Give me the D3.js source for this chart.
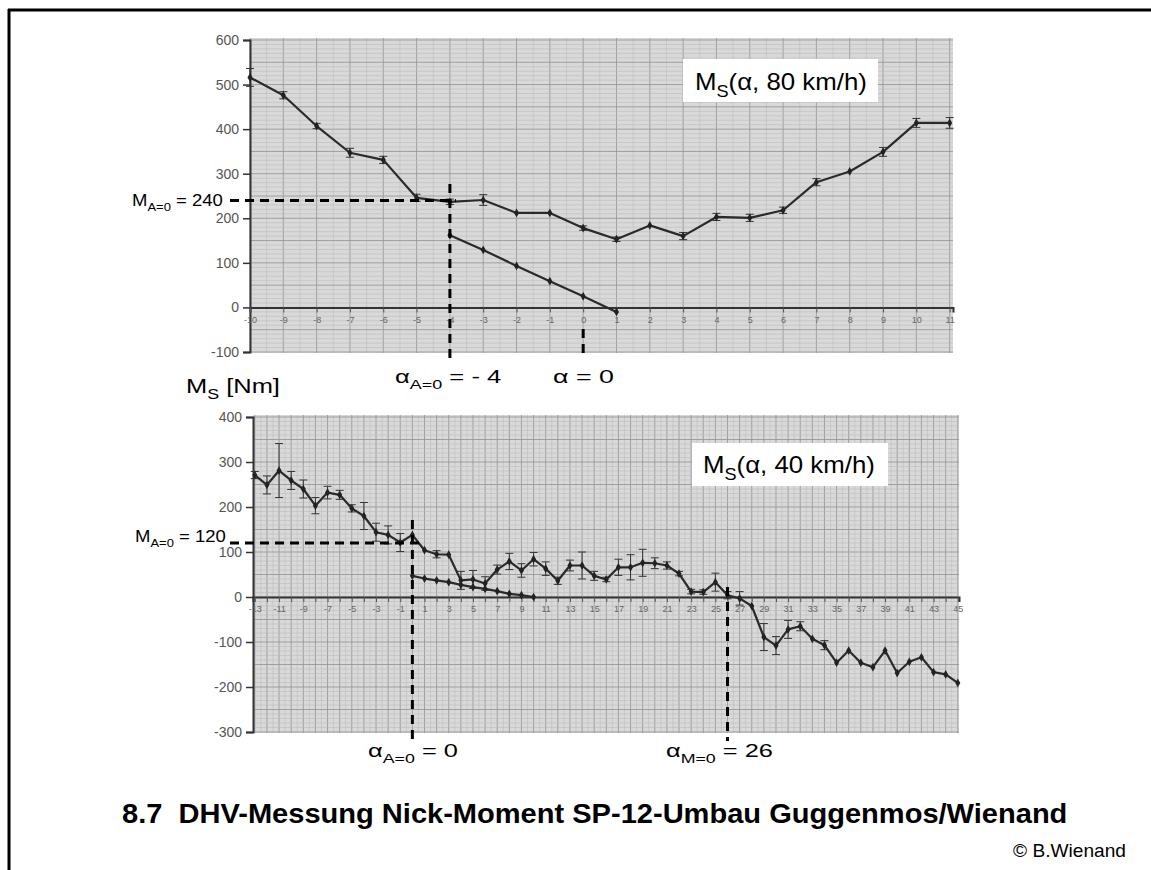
<!DOCTYPE html>
<html>
<head>
<meta charset="utf-8">
<script src="https://cdn.jsdelivr.net/npm/d3@7"></script>
<style>
  body { margin: 0; background: #fff; }
  text { font-family: "Liberation Sans", Arial, sans-serif; }
</style>
</head>
<body>
<div id="chart"></div>
<script>
// ---- data: 80 km/h ----
const alpha80 = [-10, -9, -8, -7, -6, -5, -4, -3, -2, -1, 0, 1, 2, 3, 4, 5, 6, 7, 8, 9, 10, 11];
const ms80 = [516, 476, 407, 347, 331, 246, 237, 241, 212, 212, 178, 153, 184, 160, 203, 201, 218, 281, 305, 349, 414, 414];
const err80 = [20, 8, 6, 10, 8, 8, 6, 12, 0, 0, 5, 5, 0, 8, 8, 8, 7, 8, 0, 10, 10, 12];
const alpha80Lin = [-4, -3, -2, -1, 0, 1];
const ms80Lin = [162, 129, 93, 59, 25, -10];
const yTicks80 = [-100, 0, 100, 200, 300, 400, 500, 600];

// ---- data: 40 km/h ----
const alpha40 = [-13, -12, -11, -10, -9, -8, -7, -6, -5, -4, -3, -2, -1, 0, 1, 2, 3, 4, 5, 6,
  7, 8, 9, 10, 11, 12, 13, 14, 15, 16, 17, 18, 19, 20, 21, 22, 23, 24, 25, 26,
  27, 28, 29, 30, 31, 32, 33, 34, 35, 36, 37, 38, 39, 40, 41, 42, 43, 44, 45];
const ms40 = [271, 249, 281, 259, 240, 203, 232, 227, 197, 180, 144, 138, 121, 138, 104, 95, 94, 37, 39, 30,
  61, 79, 59, 84, 63, 36, 70, 70, 47, 39, 66, 66, 76, 75, 70, 52, 12, 11, 33, 4,
  -3, -20, -89, -108, -72, -65, -93, -107, -146, -119, -146, -156, -119, -169, -144, -134, -167, -172, -191];
const err40 = [8, 20, 60, 20, 20, 18, 14, 10, 8, 30, 20, 20, 20, 0, 0, 8, 0, 20, 20, 15,
  10, 18, 15, 15, 15, 8, 12, 30, 10, 5, 18, 28, 30, 12, 8, 5, 5, 5, 20, 8,
  15, 0, 30, 20, 20, 10, 0, 10, 0, 0, 0, 0, 0, 0, 0, 0, 0, 0, 0];
const alpha40Lin = [0, 1, 2, 3, 4, 5, 6, 7, 8, 9, 10];
const ms40Lin = [47, 41, 37, 33, 27, 22, 18, 13, 7, 4, 0];
const yTicks40 = [-300, -200, -100, 0, 100, 200, 300, 400];

const width = 1151, height = 870;

const svg = d3.select("#chart").append("svg")
  .attr("width", width)
  .attr("height", height);

// page frame (top and left edge only)
svg.append("line").attr("x1", 8).attr("x2", width).attr("y1", 10).attr("y2", 10)
  .attr("stroke", "#000").attr("stroke-width", 3);
svg.append("line").attr("x1", 9).attr("x2", 9).attr("y1", 9).attr("y2", height)
  .attr("stroke", "#000").attr("stroke-width", 3);

// text with subscripts, stretched to fit a measured width
function label(parent, x0, x1, baseline, size, parts, weight) {
  const t = parent.append("text")
    .attr("font-size", size)
    .attr("font-weight", weight || "normal")
    .attr("fill", "#000");
  let shifted = false;
  parts.forEach(p => {
    const s = t.append("tspan").text(p.t);
    if (p.sub) {
      s.attr("font-size", size * 0.7);
      if (!shifted) { s.attr("dy", size * 0.3); shifted = true; }
    } else if (shifted) {
      s.attr("dy", -size * 0.3); shifted = false;
    }
  });
  const w = t.node().getBBox().width;
  t.attr("transform", `translate(${x0},${baseline}) scale(${(x1 - x0) / w},1)`);
  return t;
}

function panel(cfg) {
  const { x, y, xs, err, xLin, yLin, yTicks, xLabels } = cfg;
  const g = svg.append("g");
  const [x0, x1] = x.range();
  const [y0, y1] = [y.range()[1], y.range()[0]];

  // paper-like background
  g.append("rect").attr("x", x0).attr("y", y0 - 2)
    .attr("width", x1 - x0).attr("height", y1 - y0 + 3)
    .attr("fill", "#d9d9d9");

  const [dx0, dx1] = x.domain();
  const vMinor = d3.range(Math.ceil(dx0 * 2) / 2, dx1, 0.5);
  g.append("g").selectAll("line").data(vMinor).join("line")
    .attr("x1", d => x(d)).attr("x2", d => x(d))
    .attr("y1", y0 - 2).attr("y2", y1 + 1)
    .attr("stroke", d => Number.isInteger(d) ? "#9a9a9a" : "#bdbdbd")
    .attr("stroke-width", d => Number.isInteger(d) ? 0.9 : 0.6);

  const [dy0, dy1] = y.domain();
  const hMinor = d3.range(dy0, dy1 + 1, 10);
  g.append("g").selectAll("line").data(hMinor).join("line")
    .attr("x1", x0).attr("x2", x1)
    .attr("y1", d => y(d)).attr("y2", d => y(d))
    .attr("stroke", d => d % 50 === 0 ? "#999" : "#bcbcbc")
    .attr("stroke-width", d => d % 50 === 0 ? 0.9 : 0.6);

  // y axis
  const yAxis = g.append("g")
    .attr("transform", `translate(${x0},0)`)
    .call(d3.axisLeft(y).tickValues(yTicks).tickSize(7).tickPadding(4).tickFormat(d => String(d)));
  yAxis.select(".domain").attr("stroke", "#333").attr("stroke-width", 2);
  yAxis.selectAll(".tick line").attr("stroke", "#333").attr("stroke-width", 1.5);
  yAxis.selectAll(".tick text").attr("font-size", 14).attr("fill", "#555")
    .attr("font-family", "'Liberation Sans', Arial, sans-serif");

  // x axis at zero
  const xAxis = g.append("g")
    .attr("transform", `translate(0,${y(0)})`)
    .call(d3.axisBottom(x).tickValues(xs).tickSize(5).tickPadding(4)
      .tickFormat(d => xLabels.includes(d) ? String(d) : ""));
  xAxis.select(".domain").attr("stroke", "#333").attr("stroke-width", 2);
  xAxis.selectAll(".tick line").attr("stroke", "#555").attr("stroke-width", 1);
  xAxis.selectAll(".tick text").attr("font-size", 9).attr("fill", "#666")
    .attr("font-family", "'Liberation Sans', Arial, sans-serif");

  // error bars
  const eb = g.append("g").attr("stroke", "#333").attr("stroke-width", 1)
    .selectAll("g").data(xs.map((a, i) => ({ a, v: cfg.vals[i], e: err[i] })).filter(d => d.e > 0))
    .join("g");
  eb.append("line")
    .attr("x1", d => x(d.a)).attr("x2", d => x(d.a))
    .attr("y1", d => y(d.v - d.e)).attr("y2", d => y(d.v + d.e));
  eb.append("line")
    .attr("x1", d => x(d.a) - 4).attr("x2", d => x(d.a) + 4)
    .attr("y1", d => y(d.v + d.e)).attr("y2", d => y(d.v + d.e));
  eb.append("line")
    .attr("x1", d => x(d.a) - 4).attr("x2", d => x(d.a) + 4)
    .attr("y1", d => y(d.v - d.e)).attr("y2", d => y(d.v - d.e));

  const line = d3.line().x(d => x(d[0])).y(d => y(d[1]));
  const series = [xs.map((a, i) => [a, cfg.vals[i]]), xLin.map((a, i) => [a, yLin[i]])];
  series.forEach(pts => {
    g.append("path").datum(pts)
      .attr("d", line)
      .attr("fill", "none")
      .attr("stroke", "#2a2a2a")
      .attr("stroke-width", 2.2)
      .attr("stroke-linejoin", "round");
    g.append("g").selectAll("path").data(pts).join("path")
      .attr("transform", d => `translate(${x(d[0])},${y(d[1])})`)
      .attr("d", d3.symbol(d3.symbolDiamond, 22))
      .attr("fill", "#222");
  });
  return g;
}

// ---- top panel: 80 km/h ----
const x80 = d3.scaleLinear().domain([-10, 11.1]).range([250, 953]);
const y80 = d3.scaleLinear().domain([-100, 600]).range([352, 40]);
panel({ x: x80, y: y80, xs: alpha80, vals: ms80, err: err80,
  xLin: alpha80Lin, yLin: ms80Lin, yTicks: yTicks80, xLabels: alpha80 });

// ---- bottom panel: 40 km/h ----
const x40 = d3.scaleLinear().domain([-13.15, 45.1]).range([253, 959]);
const y40 = d3.scaleLinear().domain([-300, 400]).range([732, 417]);
panel({ x: x40, y: y40, xs: alpha40, vals: ms40, err: err40,
  xLin: alpha40Lin, yLin: ms40Lin, yTicks: yTicks40,
  xLabels: alpha40.filter(d => Math.abs(d % 2) === 1) });

// ---- dashed guide lines ----
const dash = svg.append("g").attr("stroke", "#000").attr("stroke-width", 3)
  .attr("stroke-dasharray", "9,6").attr("fill", "none");
dash.append("line").attr("x1", 230).attr("x2", x80(-4) + 6).attr("y1", y80(240)).attr("y2", y80(240));
dash.append("line").attr("x1", x80(-4)).attr("x2", x80(-4)).attr("y1", 184).attr("y2", 363);
dash.append("line").attr("x1", x80(0)).attr("x2", x80(0)).attr("y1", 329).attr("y2", 355);
dash.append("line").attr("x1", 230).attr("x2", x40(0) + 12).attr("y1", y40(120)).attr("y2", y40(120));
dash.append("line").attr("x1", x40(0)).attr("x2", x40(0)).attr("y1", 520).attr("y2", 741);
dash.append("line").attr("x1", x40(26)).attr("x2", x40(26)).attr("y1", 587).attr("y2", 741);

// ---- legend boxes ----
svg.append("rect").attr("x", 683).attr("y", 59).attr("width", 195).attr("height", 43).attr("fill", "#fff");
label(svg, 695, 867, 90, 23, [{ t: "M" }, { t: "S", sub: true }, { t: "(α, 80 km/h)" }]);
svg.append("rect").attr("x", 692).attr("y", 443).attr("width", 196).attr("height", 43).attr("fill", "#fff");
label(svg, 703, 875, 473, 23, [{ t: "M" }, { t: "S", sub: true }, { t: "(α, 40 km/h)" }]);

// ---- annotations ----
label(svg, 132, 223, 206, 16, [{ t: "M" }, { t: "A=0", sub: true }, { t: " = 240" }]);
label(svg, 135, 226, 542, 16, [{ t: "M" }, { t: "A=0", sub: true }, { t: " = 120" }]);
label(svg, 186, 280, 393, 21, [{ t: "M" }, { t: "S", sub: true }, { t: " [Nm]" }]);
label(svg, 395, 502, 383, 19, [{ t: "α" }, { t: "A=0", sub: true }, { t: " = - 4" }]);
label(svg, 553, 614, 383, 19, [{ t: "α = 0" }]);
label(svg, 368, 458, 757, 19, [{ t: "α" }, { t: "A=0", sub: true }, { t: " = 0" }]);
label(svg, 666, 773, 757, 19, [{ t: "α" }, { t: "M=0", sub: true }, { t: " = 26" }]);

// ---- title and credit ----
label(svg, 122, 1060, 823, 28, [{ t: "8.7  DHV-Messung Nick-Moment SP-12-Umbau Guggenmos/Wienand" }], "bold")
  .attr("xml:space", "preserve").style("white-space", "pre");
label(svg, 1013, 1126, 857, 18, [{ t: "© B.Wienand" }]);
</script>
</body>
</html>
